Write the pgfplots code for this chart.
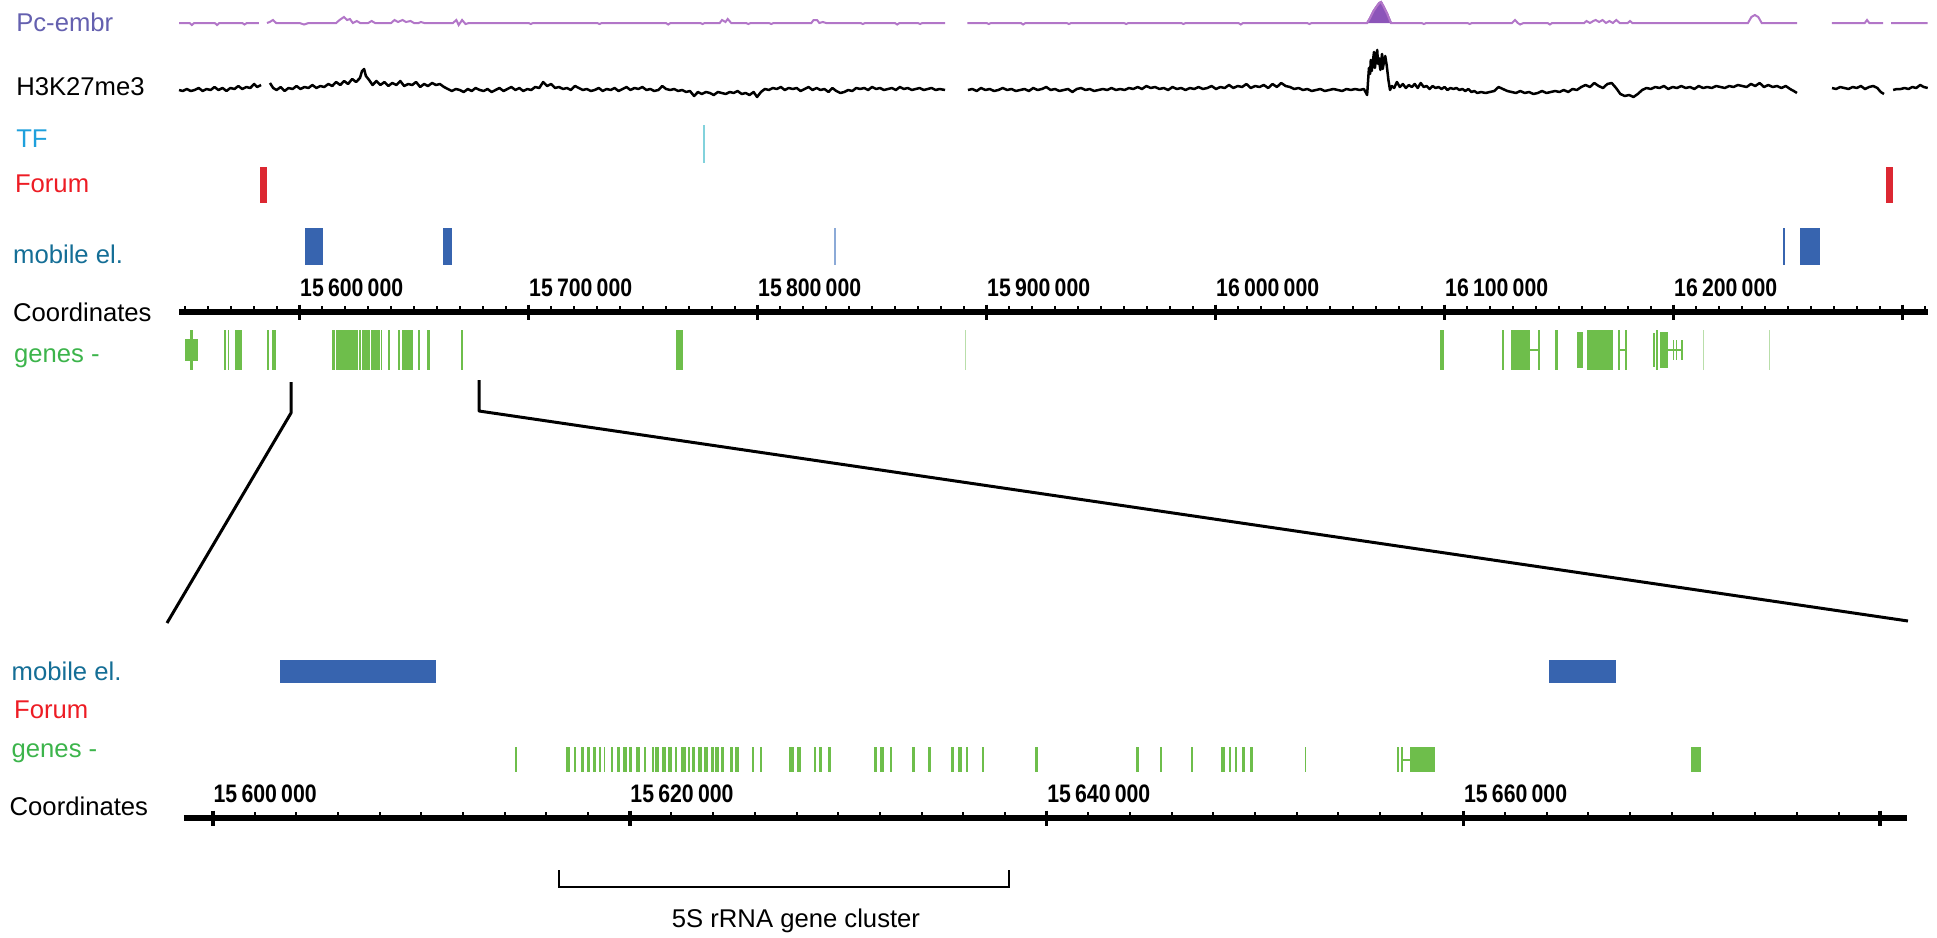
\documentclass[border=0pt]{standalone}
\usepackage{pgfplots}
\pgfplotsset{compat=1.18}
\usepackage{pgfplotstable}
\usepackage{fontspec}
\setmainfont{Liberation Sans}
\newfontfamily\ticklab[FakeStretch=0.84]{Liberation Sans Bold}
\newcommand\lab{\fontsize{7.3}{8.8}\selectfont}
\newcommand\tlab{\ticklab\fontsize{7.2}{8.6}\selectfont}

\definecolor{pclab}{HTML}{6460AF}
\definecolor{pcline}{RGB}{178,118,200}
\definecolor{pcfill}{RGB}{140,85,185}
\definecolor{tflab}{HTML}{1EA0DC}
\definecolor{tfbar}{HTML}{82D2DC}
\definecolor{forumlab}{HTML}{ED1C24}
\definecolor{forumbar}{HTML}{DC2832}
\definecolor{moblab}{HTML}{146E96}
\definecolor{mobbar}{HTML}{3764AF}
\definecolor{moblight}{RGB}{140,170,215}
\definecolor{genelab}{HTML}{3CB44B}
\definecolor{genebar}{HTML}{6EBE4B}
\definecolor{genelight}{RGB}{185,222,170}

% ---------------- data (positions in kb) ----------------
\pgfplotstableread{
x s
15547.4 1.0
15549.0 0.9
15550.8 1.1
15552.5 0.9
15554.2 1.0
15556.0 1.2
15557.7 0.9
15559.4 1.1
15561.2 1.0
15562.9 1.3
15564.6 1.0
15566.4 1.2
15568.1 0.9
15569.8 1.2
15571.6 1.1
15573.3 1.4
15575.0 1.1
15576.8 1.3
15578.5 1.2
15580.2 1.6
15581.5 1.3
15583.2 1.5
15585.0 nan
15587.1 1.7
15588.5 1.2
15590.0 1.0
15591.8 1.3
15593.5 0.9
15595.2 1.2
15597.0 1.1
15598.7 1.4
15600.4 1.1
15602.2 1.3
15603.9 1.2
15605.6 1.5
15607.4 1.2
15609.1 1.4
15610.8 1.3
15612.6 1.6
15614.3 1.4
15616.0 1.8
15617.8 1.5
15619.5 1.9
15621.2 1.6
15623.0 2.1
15624.7 1.8
15626.4 2.2
15627.3 2.9
15628.2 3.1
15629.0 2.4
15630.4 2.0
15631.9 1.5
15633.6 1.9
15635.3 1.5
15637.1 1.8
15638.8 1.4
15640.5 1.7
15642.3 1.5
15644.0 1.9
15645.7 1.4
15647.5 1.6
15649.2 1.5
15650.9 1.8
15652.7 1.3
15654.4 1.6
15656.1 1.4
15657.9 1.7
15659.6 1.5
15661.3 1.6
15663.1 1.3
15664.8 1.1
15666.5 0.9
15668.3 1.1
15670.0 1.0
15671.7 0.8
15673.5 1.1
15675.2 0.9
15676.9 1.2
15678.7 1.0
15680.4 0.9
15682.1 1.1
15683.9 0.8
15685.6 1.0
15687.3 1.2
15689.1 0.9
15690.8 1.1
15692.5 1.3
15694.3 1.0
15696.0 1.2
15697.7 0.9
15699.5 1.1
15701.2 1.0
15702.9 1.3
15704.7 1.2
15706.4 1.8
15708.1 1.4
15709.9 1.6
15711.6 1.2
15713.3 1.3
15715.1 1.1
15716.8 1.2
15718.5 1.0
15720.3 1.4
15722.0 1.2
15723.7 1.0
15725.5 1.1
15727.2 0.9
15728.9 1.0
15730.7 1.2
15732.4 0.9
15734.1 1.1
15735.9 1.0
15737.6 1.2
15739.3 0.9
15741.1 1.1
15742.8 1.3
15744.5 1.0
15746.3 1.2
15748.0 1.1
15749.7 1.3
15751.5 1.0
15753.2 1.1
15754.9 0.9
15756.7 1.0
15758.4 1.4
15760.1 1.1
15761.9 1.0
15763.6 1.1
15765.3 0.9
15767.1 1.0
15768.8 0.8
15770.5 0.9
15772.3 0.4
15774.0 0.8
15775.7 0.6
15777.5 0.8
15779.2 0.7
15780.9 0.5
15782.7 0.8
15784.4 0.7
15786.1 0.6
15787.9 0.8
15789.6 0.7
15791.3 0.9
15793.1 0.6
15794.8 0.7
15796.5 0.5
15798.3 0.8
15799.8 0.3
15801.5 0.8
15803.2 1.1
15805.0 1.0
15806.7 1.2
15808.4 1.1
15810.2 1.3
15811.9 1.0
15813.6 1.2
15815.4 1.1
15817.1 1.2
15818.8 0.9
15820.6 1.1
15822.3 1.3
15824.0 1.0
15825.8 1.2
15827.5 1.0
15829.2 1.1
15831.0 0.8
15832.7 1.2
15834.4 0.9
15836.2 0.7
15837.9 0.8
15839.6 1.0
15841.4 0.9
15843.1 1.2
15844.8 1.1
15846.6 1.2
15848.3 1.0
15850.0 1.3
15851.8 1.1
15853.5 1.2
15855.2 1.0
15857.0 1.1
15858.7 1.2
15860.4 1.0
15862.2 1.3
15863.9 1.1
15865.6 1.2
15867.4 1.0
15869.1 1.1
15870.8 1.2
15872.6 1.0
15874.3 1.1
15876.0 1.2
15877.8 1.0
15879.5 1.1
15881.9 1.0
15887.0 nan
15891.9 1.0
15893.8 1.1
15895.7 0.9
15897.6 1.2
15899.5 1.0
15901.4 1.1
15903.3 0.9
15905.2 1.0
15907.1 1.2
15909.0 1.0
15910.9 1.1
15912.8 0.9
15914.7 1.0
15916.6 1.1
15918.5 0.9
15920.4 1.2
15922.3 1.0
15924.2 1.1
15926.1 1.3
15928.0 1.0
15929.9 1.1
15931.8 0.9
15933.7 1.0
15935.6 1.1
15937.5 0.8
15939.4 1.1
15941.3 1.2
15943.2 1.0
15945.1 1.1
15947.0 0.9
15948.9 1.0
15950.8 1.1
15952.7 1.0
15954.6 1.2
15956.5 1.0
15958.4 1.1
15960.3 1.0
15962.2 1.2
15964.1 1.1
15966.0 1.3
15967.9 1.1
15969.8 1.4
15971.7 1.2
15973.6 1.3
15975.5 1.1
15977.4 1.2
15979.3 1.0
15981.2 1.3
15983.1 1.1
15985.0 1.2
15986.9 1.0
15988.8 1.2
15990.7 1.1
15992.6 1.3
15994.5 1.1
15996.4 1.2
15998.3 1.4
16000.2 1.1
16002.1 1.3
16004.0 1.2
16005.9 1.5
16007.8 1.2
16009.7 1.4
16011.6 1.3
16013.5 1.6
16015.4 1.2
16017.3 1.4
16019.2 1.3
16021.1 1.5
16023.0 1.2
16024.9 1.6
16026.8 1.3
16028.7 1.7
16030.6 1.4
16032.5 1.3
16034.4 1.1
16036.3 1.2
16038.2 1.0
16040.1 1.1
16042.0 0.9
16043.9 1.0
16045.8 1.1
16047.7 0.9
16049.6 1.0
16051.5 1.1
16053.4 1.0
16055.3 0.9
16057.2 1.1
16059.1 1.0
16061.0 1.1
16062.9 1.0
16064.8 1.1
16066.2 0.5
16067.0 3.2
16067.5 2.6
16067.8 4.0
16068.2 2.9
16068.5 3.4
16069.2 4.8
16069.6 3.2
16069.9 3.8
16070.6 5.0
16071.0 3.6
16071.3 4.2
16072.0 3.0
16072.7 4.6
16073.0 3.1
16073.4 3.6
16074.1 4.4
16074.8 3.4
16075.5 2.0
16076.2 1.0
16077.0 1.4
16078.0 1.2
16079.2 1.8
16080.5 1.3
16081.8 1.6
16083.1 1.2
16084.4 1.5
16085.7 1.3
16087.0 1.6
16088.3 1.2
16089.6 1.7
16090.9 1.3
16092.2 1.4
16093.5 1.1
16094.8 1.4
16096.1 1.2
16097.4 1.3
16098.7 1.1
16100.0 1.3
16101.3 1.0
16102.6 1.2
16103.9 1.1
16105.2 1.2
16106.5 1.0
16107.8 1.1
16109.1 0.9
16110.4 1.1
16111.7 0.8
16113.0 0.9
16114.3 0.7
16116.0 0.8
16117.9 0.7
16119.8 0.8
16121.7 0.9
16123.6 1.3
16125.5 1.1
16127.4 0.9
16129.3 0.8
16131.2 0.7
16133.1 0.9
16135.0 0.7
16136.9 0.8
16138.8 0.6
16140.7 0.7
16142.6 0.9
16144.5 0.7
16146.4 0.8
16148.3 0.9
16150.2 0.8
16152.1 1.0
16154.0 0.8
16155.9 1.1
16157.8 1.0
16159.7 1.3
16161.6 1.5
16163.5 1.3
16165.4 1.7
16167.3 1.4
16169.2 1.2
16171.1 1.6
16173.0 1.7
16174.9 1.2
16176.8 0.6
16178.7 0.4
16180.6 0.5
16182.5 0.3
16184.4 0.6
16186.3 1.0
16188.2 1.2
16190.1 1.1
16192.0 1.3
16193.9 1.2
16195.8 1.4
16197.7 1.1
16199.6 1.3
16201.5 1.2
16203.4 1.4
16205.3 1.2
16207.2 1.3
16209.1 1.1
16211.0 1.4
16212.9 1.2
16214.8 1.3
16216.7 1.2
16218.6 1.4
16220.5 1.3
16222.4 1.2
16224.3 1.4
16226.2 1.3
16228.1 1.5
16230.0 1.4
16231.9 1.3
16233.8 1.6
16235.7 1.4
16237.6 1.7
16239.5 1.3
16241.4 1.5
16243.3 1.3
16245.2 1.4
16247.1 1.2
16249.0 1.4
16250.9 1.1
16252.5 0.9
16253.9 0.7
16260.0 nan
16269.2 1.2
16271.0 1.1
16272.8 1.3
16274.6 1.2
16276.4 1.1
16278.2 1.3
16280.0 1.2
16281.8 1.4
16283.6 1.1
16285.4 1.3
16287.2 1.4
16289.0 1.2
16290.5 0.8
16291.9 0.6
16294.0 nan
16295.9 1.0
16297.5 1.1
16299.2 1.1
16300.9 1.2
16302.6 1.1
16304.3 1.3
16306.0 1.2
16307.7 1.5
16309.3 1.3
16311.0 1.2
}\hthree

\pgfplotstableread{
x p
15547.4 1.0
15552.0 1.0
15553.0 0.8
15554.0 1.0
15563.0 1.0
15564.0 0.8
15565.0 1.0
15575.0 1.0
15576.0 0.85
15577.0 1.0
15582.3 1.0
15584.0 nan
15585.8 1.0
15587.0 1.1
15588.4 1.3
15589.8 1.0
15600.0 1.0
15602.0 0.85
15604.0 1.0
15616.0 1.0
15617.5 1.3
15619.4 1.6
15620.8 1.3
15622.0 1.4
15623.3 1.0
15625.0 1.2
15626.5 1.0
15630.0 1.0
15631.5 1.2
15633.0 1.0
15640.0 1.0
15641.5 1.3
15643.0 1.1
15645.0 1.3
15646.5 1.1
15648.5 1.2
15650.0 1.0
15652.0 1.0
15653.0 1.1
15654.5 1.0
15667.0 1.0
15668.5 1.3
15669.5 0.8
15671.0 1.3
15672.5 0.9
15674.0 1.0
15700.0 1.0
15701.0 0.9
15702.0 1.0
15730.0 1.0
15731.0 0.9
15732.0 1.0
15760.0 1.0
15761.0 0.85
15762.0 1.0
15775.0 1.0
15776.0 0.9
15777.0 1.0
15783.5 1.0
15784.5 1.3
15786.0 1.1
15787.0 1.4
15788.5 1.0
15795.0 1.0
15796.0 0.9
15797.0 1.0
15805.0 1.0
15806.0 0.9
15807.0 1.0
15823.5 1.0
15824.5 1.3
15826.0 1.3
15827.0 1.0
15828.5 1.1
15830.0 1.0
15845.0 1.0
15846.0 0.9
15847.0 1.0
15860.0 1.0
15861.0 0.85
15862.0 1.0
15870.0 1.0
15871.0 0.9
15872.0 1.0
15881.9 1.0
15886.0 nan
15891.6 1.0
15900.0 1.0
15901.0 0.9
15902.0 1.0
15915.0 1.0
15916.0 0.85
15917.0 1.0
15935.0 1.0
15936.0 0.9
15937.0 1.0
15960.0 1.0
15961.0 0.9
15962.0 1.0
15985.0 1.0
15986.0 0.9
15987.0 1.0
16010.0 1.0
16011.0 0.85
16012.0 1.0
16040.0 1.0
16041.0 0.9
16042.0 1.0
16066.2 1.0
16067.5 1.5
16069.0 2.2
16070.5 2.7
16071.5 3.0
16072.3 3.1
16073.5 2.6
16075.0 1.9
16076.6 1.0
16090.0 1.0
16091.0 0.9
16092.0 1.0
16110.0 1.0
16111.0 0.9
16112.0 1.0
16129.5 1.0
16130.8 1.3
16132.0 1.0
16133.0 0.85
16134.5 1.0
16145.0 1.0
16146.0 0.85
16147.0 1.0
16161.0 1.0
16162.0 1.2
16163.5 1.0
16165.0 1.2
16166.0 1.3
16167.5 1.1
16169.0 1.3
16170.5 1.0
16172.0 1.2
16173.5 1.0
16175.0 1.3
16176.5 1.0
16180.0 1.0
16181.0 1.2
16182.0 1.0
16232.5 1.0
16234.0 1.6
16235.5 1.8
16237.0 1.6
16238.5 1.0
16254.0 1.0
16260.0 nan
16269.2 1.0
16280.0 1.0
16283.5 1.0
16284.5 1.3
16285.5 1.0
16291.5 1.0
16293.0 nan
16295.0 1.0
16311.0 1.0
}\pcembr

\pgfplotstableread{
x p
16066.2 1.0
16067.5 1.5
16069.0 2.2
16070.5 2.7
16071.5 3.0
16072.3 3.1
16073.5 2.6
16075.0 1.9
16076.6 1.0
}\pcpeak

% features: start (a), end (b), half-height (h) in kb / track units
\pgfplotstableread{
a b h
15550.0 15555.8 0.55
15552.2 15553.6 1
15567.2 15567.9 1
15568.9 15569.3 1
15571.8 15574.8 1
15585.7 15586.8 1
15587.9 15589.7 1
15614.1 15615.5 1
15615.8 15625.7 1
15626.0 15626.9 1
15627.4 15630.8 1
15631.2 15635.2 1
15635.5 15636.0 1
15638.8 15639.5 1
15643.1 15643.9 1
15644.9 15646.8 1
15647.1 15649.4 1
15651.9 15652.6 1
15655.5 15657.0 1
15670.5 15671.3 1
15764.4 15767.5 1
16098.0 16099.7 1
16125.0 16126.0 1
16128.9 16137.3 1
16137.3 16141.0 0.06
16141.0 16141.7 1
16148.3 16149.7 1
16157.7 16160.6 0.9
16162.1 16173.7 1
16175.9 16176.6 1
16176.6 16178.8 0.06
16178.8 16179.6 1
16191.0 16191.7 0.85
16192.4 16193.1 1
16194.1 16197.7 0.9
16197.7 16204.1 0.06
16199.7 16200.2 0.5
16201.2 16201.7 0.5
16203.4 16204.1 0.5
}\genestop

\pgfplotstableread{
a b h
15890.5 15891.0 1
16213.0 16213.5 1
16241.8 16242.3 1
}\genestoplight

\pgfplotstableread{
a b h
15614.50 15614.58 1
15616.94 15617.13 1
15617.32 15617.42 1
15617.66 15617.80 1
15617.95 15618.09 1
15618.23 15618.38 1
15618.52 15618.62 1
15618.75 15618.83 1
15619.11 15619.19 1
15619.40 15619.53 1
15619.68 15619.87 1
15619.97 15620.10 1
15620.31 15620.49 1
15620.69 15620.77 1
15621.07 15621.15 1
15621.22 15621.40 1
15621.55 15621.74 1
15621.84 15622.02 1
15622.18 15622.26 1
15622.47 15622.70 1
15622.80 15622.88 1
15623.00 15623.13 1
15623.29 15623.46 1
15623.58 15623.75 1
15623.92 15624.04 1
15624.11 15624.28 1
15624.40 15624.52 1
15624.79 15624.95 1
15625.07 15625.24 1
15625.87 15625.95 1
15626.25 15626.33 1
15627.64 15627.86 1
15628.03 15628.20 1
15628.85 15628.93 1
15629.07 15629.20 1
15629.51 15629.64 1
15631.72 15631.86 1
15632.01 15632.20 1
15632.49 15632.57 1
15633.56 15633.69 1
15634.33 15634.45 1
15635.43 15635.56 1
15635.77 15635.94 1
15636.11 15636.23 1
15636.91 15636.99 1
15639.46 15639.59 1
15644.29 15644.43 1
15645.44 15645.52 1
15646.93 15647.01 1
15648.37 15648.56 1
15648.73 15648.85 1
15649.05 15649.13 1
15649.38 15649.52 1
15649.76 15649.90 1
15652.39 15652.47 1
15656.79 15656.91 1
15657.00 15657.10 1
15657.10 15657.46 0.08
15657.46 15658.65 1
15670.92 15671.40 1
}\genesbot

\pgfplotstableread{
a b h
15776.4 15777.1 1
}\tftop

\pgfplotstableread{
a b h
15582.8 15585.8 1
16292.8 16295.9 1
}\forumtop

\pgfplotstableread{
a b h
15602.4 15610.3 1
15662.7 15666.6 1
16247.8 16248.6 1
16255.3 16264.0 1
}\mobtop

\pgfplotstableread{
a b h
15833.6 15834.4 1
}\mobtoplight

\pgfplotstableread{
a b h
15603.2 15610.7 1
15664.1 15667.3 1
}\mobbot

% one filled rectangle per table row, from -h to h
\newcommand\drawrects[2]{%
  \pgfplotstablegetrowsof{#1}%
  \pgfmathtruncatemacro\rectlast{\pgfplotsretval-1}%
  \pgfplotsforeachungrouped \ri in {0,...,\rectlast}{%
    \pgfplotstablegetelem{\ri}{a}\of{#1}\let\ra\pgfplotsretval
    \pgfplotstablegetelem{\ri}{b}\of{#1}\let\rb\pgfplotsretval
    \pgfplotstablegetelem{\ri}{h}\of{#1}\let\rh\pgfplotsretval
    \edef\rtmp{\noexpand\addplot[fill=#2, draw=none, forget plot] coordinates {(\ra,-\rh) (\rb,-\rh) (\rb,\rh) (\ra,\rh)};}%
    \rtmp
  }%
}

\pgfplotsset{
  toptrack/.style={scale only axis, width=174.864mm, xmin=15547.4, xmax=16311,
    hide axis, clip=false, anchor=south west},
  bottrack/.style={scale only axis, width=172.35mm, xmin=15598.6, xmax=15681.3,
    hide axis, clip=false, anchor=south west},
  ruler/.style={scale only axis, height=1mm, ymin=0, ymax=1, anchor=north west,
    axis x line=top, axis y line=none, scaled x ticks=false,
    axis line style={-, line width=0.6mm, black},
    tick align=center, major tick length=1.5mm, minor tick length=0.6mm,
    every major tick/.style={line width=0.35mm, black},
    every minor tick/.style={line width=0.2mm, black, yshift=0.3mm},
    xticklabel style={font=\tlab, anchor=base west, inner sep=0pt, yshift=0.8mm},
  },
}

\begin{document}
\begin{tikzpicture}
\path[use as bounding box] (0,0) rectangle (193.7mm,93.7mm);

% ---------- top panel ----------
\begin{axis}[toptrack, at={(17.905mm,90.4mm)}, height=4mm, ymin=0, ymax=4]
  \addplot[fill=pcfill, draw=pcfill, line width=0.2mm] table[x=x,y=p] {\pcpeak};
  \addplot[pcline, line width=0.2mm, unbounded coords=jump, mark=none] table[x=x,y=p] {\pcembr};
\end{axis}

\begin{axis}[toptrack, at={(17.905mm,83.7mm)}, height=6mm, ymin=0, ymax=6]
  \addplot[black, line width=0.25mm, line join=round, unbounded coords=jump, mark=none] table[x=x,y=s] {\hthree};
\end{axis}

\begin{axis}[toptrack, at={(17.905mm,77.4mm)}, height=3.8mm, ymin=-1, ymax=1]
  \drawrects{\tftop}{tfbar}
\end{axis}

\begin{axis}[toptrack, at={(17.905mm,73.4mm)}, height=3.6mm, ymin=-1, ymax=1]
  \drawrects{\forumtop}{forumbar}
\end{axis}

\begin{axis}[toptrack, at={(17.905mm,67.2mm)}, height=3.7mm, ymin=-1, ymax=1]
  \drawrects{\mobtop}{mobbar}
  \drawrects{\mobtoplight}{moblight}
\end{axis}

\begin{axis}[ruler, at={(17.905mm,62.5mm)}, width=174.864mm, xmin=15547.4, xmax=16311,
  xtick={15600,15700,...,16300},
  xticklabels={15\,600\,000,15\,700\,000,15\,800\,000,15\,900\,000,16\,000\,000,16\,100\,000,16\,200\,000,{}},
  minor xtick={15550,15560,...,16310}]
  \addplot[draw=none] coordinates {(15600,0)};
\end{axis}

\begin{axis}[toptrack, at={(17.905mm,56.7mm)}, height=4mm, ymin=-1, ymax=1]
  \drawrects{\genestop}{genebar}
  \drawrects{\genestoplight}{genelight}
\end{axis}

% ---------- bottom panel ----------
\begin{axis}[bottrack, at={(18.38mm,25.4mm)}, height=2.3mm, ymin=-1, ymax=1]
  \drawrects{\mobbot}{mobbar}
\end{axis}

\begin{axis}[bottrack, at={(18.38mm,16.5mm)}, height=2.5mm, ymin=-1, ymax=1]
  \drawrects{\genesbot}{genebar}
\end{axis}

\begin{axis}[ruler, at={(18.38mm,11.9mm)}, width=172.35mm, xmin=15598.6, xmax=15681.3,
  xtick={15600,15620,...,15680},
  xticklabels={15\,600\,000,15\,620\,000,15\,640\,000,15\,660\,000,{}},
  minor xtick={15600,15602,...,15680}]
  \addplot[draw=none] coordinates {(15600,0)};
\end{axis}

% ---------- track names ----------
\node[font=\lab, text=pclab, anchor=base west, inner sep=0pt] at (1.56mm,90.6mm) {Pc-embr};
\node[font=\lab, text=black, anchor=base west, inner sep=0pt] at (1.56mm,84.2mm) {H3K27me3};
\node[font=\lab, text=tflab, anchor=base west, inner sep=0pt] at (1.56mm,79.0mm) {TF};
\node[font=\lab, text=forumlab, anchor=base west, inner sep=0pt] at (1.43mm,74.5mm) {Forum};
\node[font=\lab, text=moblab, anchor=base west, inner sep=0pt] at (1.25mm,67.4mm) {mobile el.};
\node[font=\lab, text=black, anchor=base west, inner sep=0pt] at (1.25mm,61.6mm) {Coordinates};
\node[font=\lab, text=genelab, anchor=base west, inner sep=0pt] at (1.34mm,57.5mm) {genes -};

\node[font=\lab, text=moblab, anchor=base west, inner sep=0pt] at (1.1mm,25.7mm) {mobile el.};
\node[font=\lab, text=forumlab, anchor=base west, inner sep=0pt] at (1.34mm,21.9mm) {Forum};
\node[font=\lab, text=genelab, anchor=base west, inner sep=0pt] at (1.1mm,18.0mm) {genes -};
\node[font=\lab, text=black, anchor=base west, inner sep=0pt] at (0.9mm,12.2mm) {Coordinates};

% ---------- zoom connectors and bracket ----------
\draw[line width=0.3mm, line join=round] (29.1mm,55.5mm) -- (29.1mm,52.4mm) -- (16.7mm,31.4mm);
\draw[line width=0.3mm, line join=round] (47.9mm,55.7mm) -- (47.9mm,52.6mm) -- (190.8mm,31.6mm);
\draw[line width=0.2mm] (55.9mm,6.7mm) -- (55.9mm,5.0mm) -- (100.9mm,5.0mm) -- (100.9mm,6.7mm);
\node[font=\lab, anchor=base, inner sep=0pt] at (79.6mm,1.0mm) {5S rRNA gene cluster};
\end{tikzpicture}
\end{document}
